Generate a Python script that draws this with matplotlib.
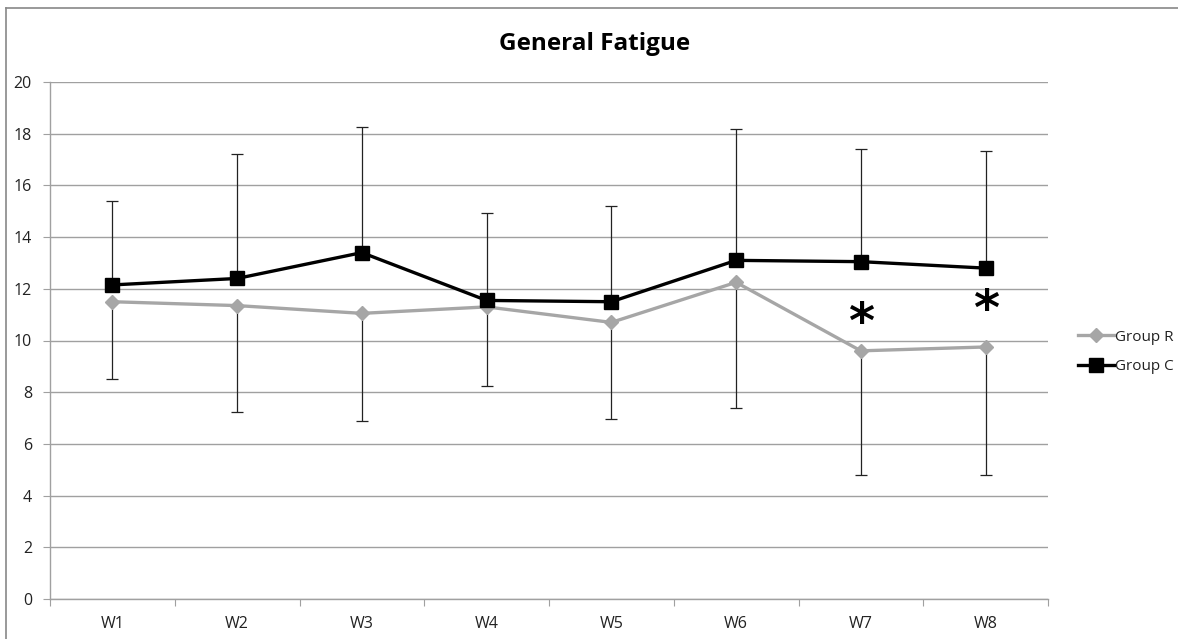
import matplotlib
matplotlib.use("Agg")
import matplotlib.pyplot as plt
from matplotlib.lines import Line2D
import numpy as np

categories = ["W1", "W2", "W3", "W4", "W5", "W6", "W7", "W8"]
group_r = [11.5, 11.35, 11.05, 11.3, 10.7, 12.25, 9.6, 9.75]
group_c = [12.15, 12.4, 13.4, 11.55, 11.5, 13.1, 13.05, 12.8]
err_c_up = [3.25, 4.8, 4.85, 3.4, 3.7, 5.1, 4.35, 4.55]
err_r_down = [3.0, 4.1, 4.15, 3.05, 3.75, 4.85, 4.8, 4.95]
star_cats = ["W7", "W8"]
star_y = [10.65, 11.15]

plt.rcParams['font.family'] = ['Open Sans', 'DejaVu Sans']

fig = plt.figure(figsize=(11.78, 6.39), dpi=100)
ax = fig.add_axes([50/1178, 1-599/639, 998/1178, 517/639])

x = np.arange(1, len(categories) + 1)

ax.errorbar(x, group_c, yerr=[np.zeros(len(x)), err_c_up], fmt='none',
            ecolor='#222222', elinewidth=0.9, capsize=4, capthick=0.9, zorder=2)
ax.errorbar(x, group_r, yerr=[err_r_down, np.zeros(len(x))], fmt='none',
            ecolor='#222222', elinewidth=0.9, capsize=4, capthick=0.9, zorder=2)

ax.plot(x, group_r, color='#a6a6a6', lw=2.4, marker='D', markersize=7.5,
        markerfacecolor='#a6a6a6', markeredgecolor='#a6a6a6', label='Group R', zorder=3)
ax.plot(x, group_c, color='black', lw=2.4, marker='s', markersize=10,
        markerfacecolor='black', markeredgecolor='black', label='Group C', zorder=4)

for c, yv in zip(star_cats, star_y):
    ax.text(categories.index(c) + 1, yv, '*', fontsize=36, ha='center', va='center',
            color='black', family=['DejaVu Sans'], fontweight='bold')

ax.set_xlim(0.5, len(categories) + 0.5)
ax.set_ylim(0, 20)
ax.set_yticks(np.arange(0, 21, 2))
ax.yaxis.grid(True, color='#a0a0a0', lw=1)
ax.set_axisbelow(True)

ax.set_xticks(np.arange(0.5, len(categories) + 1, 1))
ax.set_xticklabels([])
ax.set_xticks(x, minor=True)
ax.set_xticklabels(categories, minor=True)
ax.tick_params(axis='x', which='major', length=5, color='#a0a0a0', direction='out')
ax.tick_params(axis='x', which='minor', length=0, pad=12, labelsize=11.5, labelcolor='#222222')
ax.tick_params(axis='y', length=5, color='#a0a0a0', direction='out', pad=8,
               labelsize=11.5, labelcolor='#222222')

for s in ['top', 'right']:
    ax.spines[s].set_visible(False)
for s in ['left', 'bottom']:
    ax.spines[s].set_color('#a0a0a0')
    ax.spines[s].set_linewidth(1)

fig.text(595/1178, 1-44/639, 'General Fatigue', fontsize=17.5, fontweight='bold',
         ha='center', va='center', color='black')

leg = fig.legend(loc='center left', bbox_to_anchor=(1064/1178, 1-352/639), frameon=False,
                 fontsize=11, handlelength=2.4, handletextpad=0.05, labelspacing=0.95)
for t in leg.get_texts():
    t.set_color('#222222')

fig.add_artist(Line2D([6/1178, 6/1178], [0, 1-8/639], color='#888888', lw=1.2))
fig.add_artist(Line2D([6/1178, 1], [1-8/639, 1-8/639], color='#888888', lw=1.2))

fig.savefig('out.png', dpi=100)
